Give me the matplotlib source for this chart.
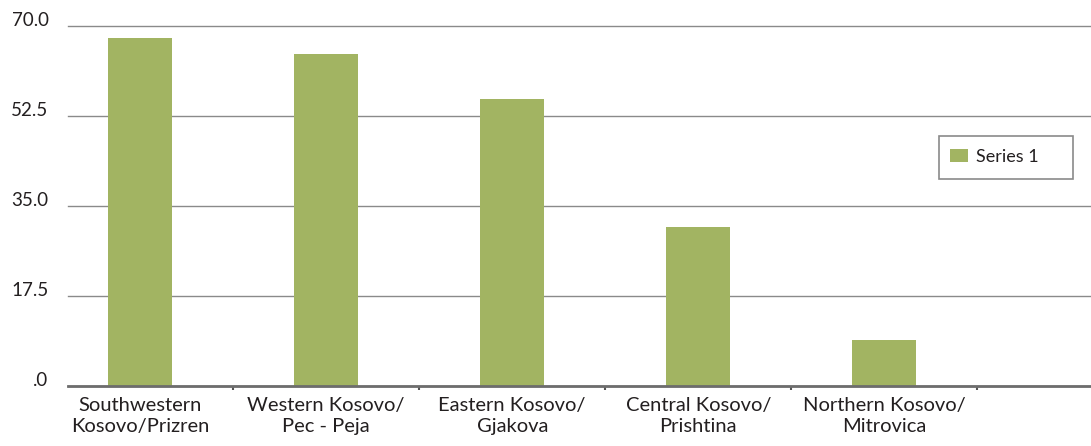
import matplotlib
matplotlib.use("Agg")
import matplotlib.pyplot as plt
from matplotlib.patches import Rectangle
import numpy as np

# Regions and their values
regions = [
    "Southwestern\nKosovo/Prizren",
    "Western Kosovo/\nPec - Peja",
    "Eastern Kosovo/\nGjakova",
    "Central Kosovo/\nPrishtina",
    "Northern Kosovo/\nMitrovica",
]
series_1 = [67.7, 64.6, 55.8, 30.9, 8.9]
y_ticks = [0, 17.5, 35.0, 52.5, 70.0]
y_tick_labels = [".0", "17.5", "35.0", "52.5", "70.0"]

bar_color = "#a2b462"
text_color = "#231f20"
plt.rcParams["font.family"] = ["Lato", "DejaVu Sans"]

fig = plt.figure(figsize=(10.91, 4.46), dpi=100)
ax = fig.add_axes([68 / 1091, 60 / 446, 1023 / 1091, 360 / 446])

x = np.arange(len(regions))
ax.bar(x, series_1, width=0.344, color=bar_color, label="Series 1", zorder=3)

ax.set_xlim(-0.387, 5.11)
ax.set_ylim(0, 70)

# horizontal gridlines
ax.set_yticks(y_ticks)
ax.set_yticklabels(y_tick_labels, fontsize=13.5, color=text_color)
for lbl in ax.get_yticklabels():
    lbl.set_va("baseline")
ax.tick_params(axis="y", length=0, pad=14)
ax.yaxis.grid(True, color="#8a8a8a", linewidth=1)
for gl in ax.get_ygridlines():
    gl.set_clip_on(False)
ax.set_axisbelow(True)

# category labels and small separator ticks
ax.set_xticks(x)
ax.set_xticklabels(regions, fontsize=14.5, color=text_color, linespacing=1.3)
ax.tick_params(axis="x", which="major", length=0, pad=8)
ax.set_xticks(x + 0.5, minor=True)
ax.tick_params(axis="x", which="minor", length=3, width=1.5, color="#555555", direction="out")

for side in ["top", "right", "left"]:
    ax.spines[side].set_visible(False)
ax.spines["bottom"].set_color("#6d6d6d")
ax.spines["bottom"].set_linewidth(2)
ax.spines["bottom"].set_zorder(4)

# legend with a wide plain frame
leg = ax.legend(loc="upper left", bbox_to_anchor=(950 / 1091, 1 - 149 / 446),
                bbox_transform=fig.transFigure, frameon=False, fontsize=13,
                handlelength=1.0, handleheight=0.75, handletextpad=0.45,
                borderpad=0, borderaxespad=0, labelcolor=text_color)
fig.patches.append(Rectangle((939 / 1091, 1 - 179 / 446), 134 / 1091, 43 / 446,
                             transform=fig.transFigure, fill=False,
                             edgecolor="#8a8a8a", linewidth=1.2))

fig.savefig("out.png", dpi=100)
